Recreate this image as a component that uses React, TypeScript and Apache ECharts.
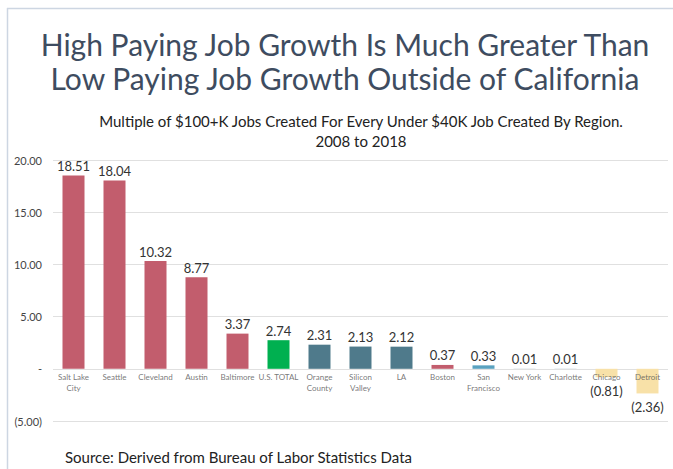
import React, { useEffect, useRef } from "react";
import * as echarts from "echarts";

const categories = [
  "Salt Lake\nCity", "Seattle", "Cleveland", "Austin", "Baltimore", "U.S. TOTAL",
  "Orange\nCounty", "Silicon\nValley", "LA", "Boston", "San\nFrancisco",
  "New York", "Charlotte", "Chicago", "Detroit",
];
const values = [18.51, 18.04, 10.32, 8.77, 3.37, 2.74, 2.31, 2.13, 2.12, 0.37, 0.33, 0.01, 0.01, -0.81, -2.36];
const barColors = [
  "#c25d6d", "#c25d6d", "#c25d6d", "#c25d6d", "#c25d6d", "#00b050",
  "#4f7a8b", "#4f7a8b", "#4f7a8b", "#c25d6d", "#5aa2c0",
  "#4f7a8b", "#4f7a8b", "#f8e1a8", "#f8e1a8",
];
const yMin = -5;
const yMax = 20;
const yInterval = 5;

const titleLines = "High Paying Job Growth Is Much Greater Than\nLow Paying Job Growth Outside of California";
const subtitle = "Multiple of $100+K Jobs Created For Every Under $40K Job Created By Region.\n2008 to 2018";
const source = "Source: Derived from Bureau of Labor Statistics Data";

const fmt = (v: number) => {
  if (Math.abs(v) < 1e-9) return "-";
  if (v < 0) return "(" + Math.abs(v).toFixed(2) + ")";
  return v.toFixed(2);
};

export default function App() {
  const ref = useRef<HTMLDivElement>(null);
  useEffect(() => {
    if (!ref.current) return;
    const chart = echarts.init(ref.current, undefined, { renderer: "svg" });
    const font = "Lato, 'Open Sans', sans-serif";
    chart.setOption({
      animation: false,
      textStyle: { fontFamily: font },
      title: [
        {
          text: titleLines,
          left: 340,
          top: 22,
          textAlign: "center",
          textStyle: { fontFamily: font, fontSize: 30, fontWeight: "normal", color: "#3e4c60", lineHeight: 34 },
        },
        {
          text: subtitle,
          left: 356,
          top: 106,
          textAlign: "center",
          textStyle: { fontFamily: font, fontSize: 15, fontWeight: "normal", color: "#222", lineHeight: 20 },
        },
        {
          text: source,
          left: 60,
          top: 444,
          textStyle: { fontFamily: font, fontSize: 15, fontWeight: "normal", color: "#222" },
        },
      ],
      graphic: [
        { type: "line", shape: { x1: 7, y1: 8.5, x2: 673, y2: 8.5 }, style: { stroke: "#cdd6e2", lineWidth: 1.5 } },
        { type: "line", shape: { x1: 7.5, y1: 8, x2: 7.5, y2: 469 }, style: { stroke: "#cdd6e2", lineWidth: 1.5 } },
      ],
      grid: { left: 53, right: 5, top: 160, bottom: 48, containLabel: false },
      xAxis: {
        type: "category",
        data: categories,
        axisLine: { show: false },
        axisTick: { show: false },
        axisLabel: { show: false },
      },
      yAxis: {
        type: "value",
        min: yMin,
        max: yMax,
        interval: yInterval,
        axisLine: { show: false },
        axisTick: { show: false },
        splitLine: { lineStyle: { color: "#e0e0e0" } },
        axisLabel: { formatter: fmt, fontSize: 11, color: "#444", margin: 11, fontFamily: font },
      },
      series: [
        {
          type: "bar",
          barWidth: 22,
          z: 2,
          data: values.map((v, i) => ({
            value: v,
            itemStyle: { color: barColors[i] },
            label: {
              show: true,
              position: v < 0 ? "bottom" : "top",
              distance: v < 0 ? 7 : 3,
              formatter: () => fmt(v),
              fontSize: 13,
              color: "#333",
              fontFamily: font,
            },
          })),
        },
        {
          type: "scatter",
          z: 5,
          symbolSize: 0,
          silent: true,
          data: categories.map((c) => [c, 0]),
          label: {
            show: true,
            position: "bottom",
            distance: 3,
            formatter: (p: any) => p.name || p.value[0],
            fontSize: 8,
            lineHeight: 11,
            color: "#555",
            fontFamily: font,
            align: "center",
            verticalAlign: "top",
          },
        },
      ],
    });
    return () => chart.dispose();
  }, []);
  return <div ref={ref} style={{ width: 673, height: 469, position: "absolute", left: 0, top: 0, background: "#fff" }} />;
}
